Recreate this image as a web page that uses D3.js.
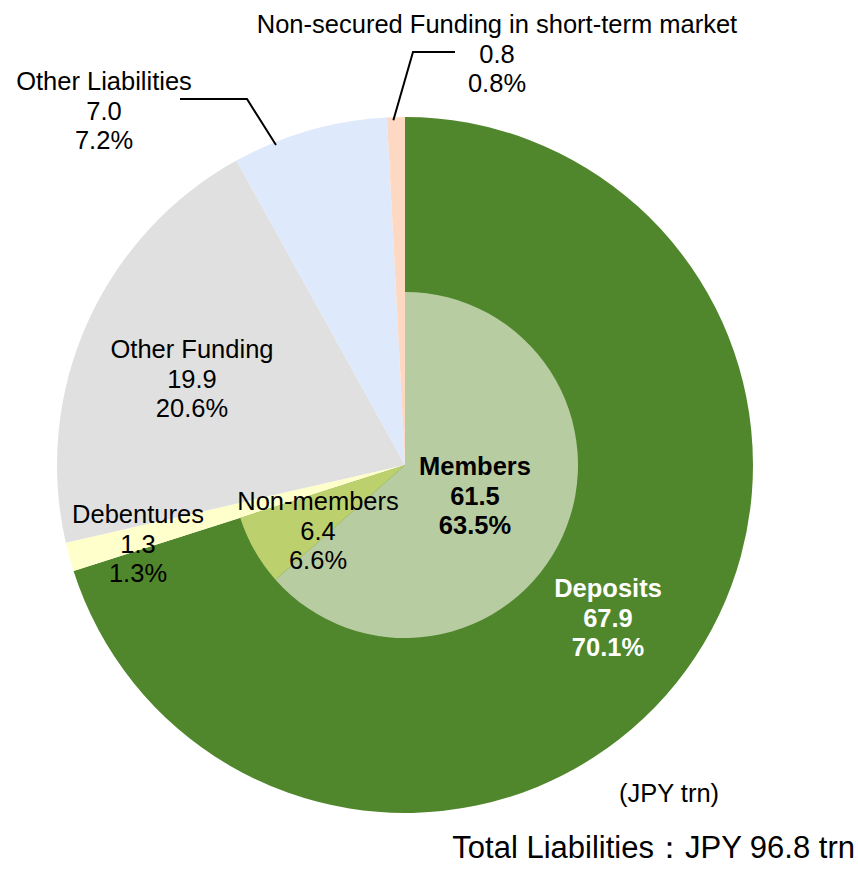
<!DOCTYPE html>
<html>
<head>
<meta charset="utf-8">
<script src="https://cdn.jsdelivr.net/npm/d3@7"></script>
<style>
  html, body { margin: 0; padding: 0; background: #fff; }
  svg { display: block; font-family: "Liberation Sans", Arial, sans-serif; }
</style>
</head>
<body>
<svg id="chart" width="858" height="869"></svg>
<script>
// ---- data ----
const outerNames   = ["Deposits", "Debentures", "Other Funding", "Other Liabilities", "Non-secured Funding in short-term market"];
const outerValues  = [67.9, 1.3, 19.9, 7.0, 0.8];
const outerPercent = ["70.1%", "1.3%", "20.6%", "7.2%", "0.8%"];
const outerColors  = ["#50872d", "#ffffcc", "#e0e0e0", "#dee9fc", "#fdd9c4"];

const innerNames   = ["Members", "Non-members"];
const innerValues  = [61.5, 6.4];
const innerPercent = ["63.5%", "6.6%"];
const innerColors  = ["#b8cca2", "#bdd06e"];

const unitLabel  = "(JPY trn)";
const totalLabel = "Total Liabilities\uFF1AJPY 96.8 trn";

// ---- layout ----
const cx = 405, cy = 465, R = 348, r = 173;
const fontSize = 25.5, lineH = 29.5;

// label anchor (x, first baseline) per slice
const outerLabelPos = [[608, 597], [138, 523], [192, 358], [104, 90], [497, 33]];
const innerLabelPos = [[475, 475], [318, 510]];
const outerLabelStyle = [{fill: "#fff", weight: "bold"}, {}, {}, {}, {}];
const innerLabelStyle = [{fill: "#000", weight: "bold"}, {}];

const svg = d3.select("#chart");
const g = svg.append("g").attr("transform", `translate(${cx},${cy})`);

const pie = d3.pie().sort(null).value(d => d);
const outerArcs = pie(outerValues);

const arcOuter = d3.arc().innerRadius(0).outerRadius(R);
g.selectAll("path.outer").data(outerArcs).enter().append("path")
  .attr("class", "outer")
  .attr("d", arcOuter)
  .attr("fill", (d, i) => outerColors[i]);

// inner pie: members / non-members spanning the deposits angle
const dep = outerArcs[0];
const innerPie = d3.pie().sort(null).value(d => d)
  .startAngle(dep.startAngle).endAngle(dep.endAngle);
const innerArcs = innerPie(innerValues);
const arcInner = d3.arc().innerRadius(0).outerRadius(r);
g.selectAll("path.inner").data(innerArcs).enter().append("path")
  .attr("class", "inner")
  .attr("d", arcInner)
  .attr("fill", (d, i) => innerColors[i]);

// leader lines (label edge -> slice)
const leader = (arcD, frac, labelPt, elbowX) => {
  const a = arcD.startAngle + frac * (arcD.endAngle - arcD.startAngle);
  const rr = R - 3;
  const px = cx + rr * Math.sin(a), py = cy - rr * Math.cos(a);
  return [labelPt, [elbowX, labelPt[1]], [px, py]];
};
const lineGen = d3.line();
const leaders = [
  leader(outerArcs[3], 0.27, [180, 99], 247),
  leader(outerArcs[4], 0.35, [455, 52], 413)
];
svg.selectAll("path.leader").data(leaders).enter().append("path")
  .attr("class", "leader")
  .attr("d", lineGen)
  .attr("fill", "none")
  .attr("stroke", "#000")
  .attr("stroke-width", 2);

function drawLabel(pos, lines, style) {
  const t = svg.append("text")
    .attr("text-anchor", "middle")
    .attr("font-size", fontSize)
    .attr("fill", style.fill || "#000")
    .attr("font-weight", style.weight || "normal");
  lines.forEach((s, k) => {
    t.append("tspan").attr("x", pos[0]).attr("y", pos[1] + k * lineH).text(s);
  });
}

outerArcs.forEach((d, i) => {
  drawLabel(outerLabelPos[i], [outerNames[i], outerValues[i].toFixed(1), outerPercent[i]], outerLabelStyle[i]);
});
innerArcs.forEach((d, i) => {
  drawLabel(innerLabelPos[i], [innerNames[i], innerValues[i].toFixed(1), innerPercent[i]], innerLabelStyle[i]);
});

svg.append("text").attr("x", 669).attr("y", 802).attr("text-anchor", "middle")
  .attr("font-size", fontSize).text(unitLabel);
svg.append("text").attr("x", 855).attr("y", 858).attr("text-anchor", "end")
  .attr("font-size", 31).text(totalLabel);
</script>
</body>
</html>
